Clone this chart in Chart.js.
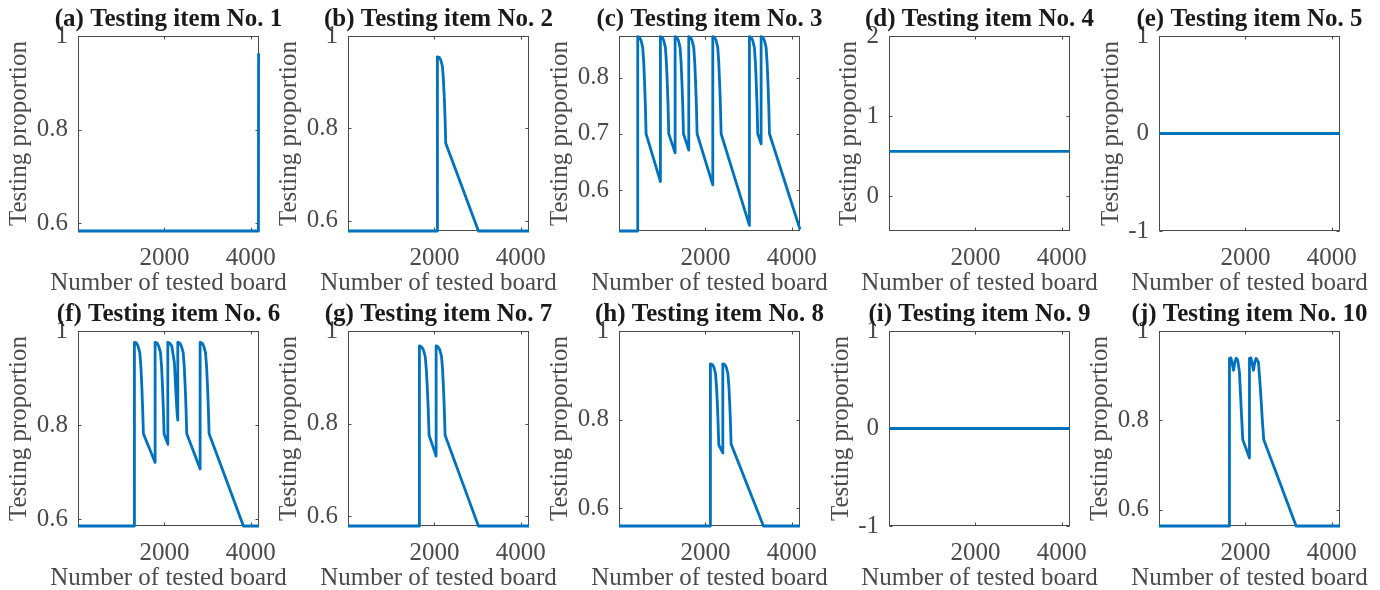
<!DOCTYPE html>
<html>
<head>
<meta charset="utf-8">
<script src="https://cdn.jsdelivr.net/npm/chart.js@4.4.0/dist/chart.umd.min.js"></script>
<style>
  body { margin: 0; background: #fff; }
  #wrap { position: relative; width: 1380px; height: 590px; overflow: hidden; background: #fff; }
  #wrap canvas { position: absolute; }
</style>
</head>
<body>
<div id="wrap"></div>
<script>
// values, one pair of arrays per panel
const titles = [
  '(a) Testing item No. 1', '(b) Testing item No. 2', '(c) Testing item No. 3',
  '(d) Testing item No. 4', '(e) Testing item No. 5', '(f) Testing item No. 6',
  '(g) Testing item No. 7', '(h) Testing item No. 8', '(i) Testing item No. 9',
  '(j) Testing item No. 10'
]
const xLabel = 'Number of tested board'
const yLabel = 'Testing proportion'
const xTicks = [2000, 4000]
const xMax = 4190

const yMin = [0.583, 0.578, 0.527, -0.43, -1, 0.586, 0.579, 0.56, -1, 0.564]
const yMax = [1, 1, 0.874, 2, 1, 1, 1, 1, 1, 1]
const yTicks = [
  [0.6, 0.8, 1], [0.6, 0.8, 1], [0.6, 0.7, 0.8], [0, 1, 2], [-1, 0, 1],
  [0.6, 0.8, 1], [0.6, 0.8, 1], [0.6, 0.8, 1], [-1, 0, 1], [0.6, 0.8, 1]
]

const aX = [0, 4177, 4180]
const aY = [0.583, 0.583, 0.963]

const bX = [0, 2070, 2070, 2109, 2148, 2186, 2209, 2232, 2248, 2263, 3019, 4190]
const bY = [0.578, 0.578, 0.955, 0.954, 0.948, 0.934, 0.905, 0.861, 0.818, 0.768, 0.578, 0.578]

const cX = [0, 434,
  434, 473, 511, 550, 573, 594, 612, 627, 959,
  959, 998, 1036, 1075, 1098, 1119, 1137, 1152, 1299,
  1299, 1338, 1376, 1415, 1438, 1459, 1477, 1492, 1615,
  1615, 1654, 1692, 1731, 1754, 1775, 1793, 1808, 2171,
  2171, 2210, 2248, 2287, 2310, 2331, 2349, 2364, 3019,
  3019, 3058, 3096, 3135, 3158, 3179, 3197, 3212, 3290,
  3290, 3329, 3367, 3406, 3429, 3450, 3468, 3483, 4190]
const cY = [0.527, 0.527,
  0.873, 0.872, 0.866, 0.853, 0.826, 0.787, 0.747, 0.700, 0.615,
  0.873, 0.872, 0.866, 0.853, 0.826, 0.787, 0.747, 0.700, 0.666,
  0.873, 0.872, 0.866, 0.853, 0.826, 0.787, 0.747, 0.700, 0.671,
  0.873, 0.872, 0.866, 0.853, 0.826, 0.787, 0.747, 0.700, 0.609,
  0.873, 0.872, 0.866, 0.853, 0.826, 0.787, 0.747, 0.700, 0.537,
  0.873, 0.872, 0.866, 0.853, 0.826, 0.787, 0.747, 0.700, 0.682,
  0.873, 0.872, 0.866, 0.853, 0.826, 0.787, 0.747, 0.700, 0.530]

const dX = [0, 4190]
const dY = [0.5625, 0.5625]

const eX = [0, 4190]
const eY = [0, 0]

const fX = [0, 1306,
  1306, 1348, 1389, 1431, 1456, 1479, 1497, 1514, 1785,
  1785, 1827, 1868, 1910, 1935, 1958, 1976, 1993, 2079,
  2079, 2125, 2171, 2232, 2263, 2294, 2310,
  2310, 2352, 2393, 2435, 2460, 2483, 2501, 2518, 2827,
  2827, 2869, 2910, 2952, 2977, 3000, 3018, 3035, 3829, 4190]
const fY = [0.586, 0.586,
  0.976, 0.975, 0.968, 0.954, 0.924, 0.879, 0.834, 0.782, 0.721,
  0.976, 0.975, 0.968, 0.954, 0.924, 0.879, 0.834, 0.782, 0.759,
  0.976, 0.974, 0.968, 0.932, 0.875, 0.825, 0.811,
  0.976, 0.975, 0.968, 0.954, 0.924, 0.879, 0.834, 0.782, 0.707,
  0.976, 0.975, 0.968, 0.954, 0.924, 0.879, 0.834, 0.782, 0.586, 0.586]

const gX = [0, 1653,
  1653, 1698, 1743, 1787, 1814, 1839, 1859, 1877, 2040,
  2040, 2082, 2123, 2165, 2190, 2213, 2231, 2248, 3019, 4190]
const gY = [0.579, 0.579,
  0.968, 0.966, 0.960, 0.945, 0.916, 0.871, 0.827, 0.775, 0.730,
  0.968, 0.966, 0.960, 0.945, 0.916, 0.871, 0.827, 0.775, 0.579, 0.579]

const hX = [0, 2116,
  2116, 2155, 2194, 2232, 2256, 2277, 2294, 2310, 2403,
  2403, 2442, 2481, 2519, 2543, 2564, 2581, 2595, 3343, 4190]
const hY = [0.56, 0.56,
  0.926, 0.925, 0.919, 0.905, 0.877, 0.835, 0.792, 0.743, 0.725,
  0.926, 0.925, 0.919, 0.905, 0.877, 0.835, 0.792, 0.745, 0.56, 0.56]

const iX = [0, 4190]
const iY = [0, 0]

const jX = [0, 1631,
  1631, 1665, 1700, 1724, 1755, 1786, 1823, 1862, 1900, 1939, 2094,
  2094, 2128, 2160, 2187, 2218, 2248, 2302, 2348, 2395, 2425, 3174, 4190]
const jY = [0.564, 0.564,
  0.939, 0.940, 0.925, 0.912, 0.930, 0.939, 0.935, 0.908, 0.832, 0.757, 0.716,
  0.939, 0.940, 0.925, 0.912, 0.930, 0.939, 0.930, 0.870, 0.795, 0.757, 0.564, 0.564]

const seriesX = [aX, bX, cX, dX, eX, fX, gX, hX, iX, jX]
const seriesY = [aY, bY, cY, dY, eY, fY, gY, hY, iY, jY]

const colLeft = [0, 270, 541, 811, 1081]
const serif = "'Liberation Serif', 'Times New Roman', serif"
const grey = '#4a4a4a'

// box, inner ticks and the three texts of each panel
const frame = {
  id: 'frame',
  beforeDatasetsDraw(chart) {
    const { ctx, chartArea: a, scales: { x, y } } = chart
    const L = Math.round(a.left) + 0.5, R = Math.round(a.right) - 0.5
    const T = Math.round(a.top) + 0.5, B = Math.round(a.bottom) - 0.5
    ctx.save()
    ctx.strokeStyle = grey
    ctx.lineWidth = 1
    ctx.strokeRect(L, T, R - L, B - T)
    ctx.beginPath()
    x.ticks.forEach(t => {
      const px = Math.round(x.getPixelForValue(t.value)) + 0.5
      ctx.moveTo(px, B); ctx.lineTo(px, B - 3)
      ctx.moveTo(px, T); ctx.lineTo(px, T + 3)
    })
    y.ticks.forEach(t => {
      const py = Math.round(y.getPixelForValue(t.value)) + 0.5
      ctx.moveTo(L, py); ctx.lineTo(L + 3, py)
      ctx.moveTo(R, py); ctx.lineTo(R - 3, py)
    })
    ctx.stroke()
    ctx.restore()
  },
  afterDraw(chart, args, opts) {
    const { ctx, chartArea: a, scales: { y } } = chart
    const cx = (a.left + a.right) / 2
    const cy = (a.top + a.bottom) / 2
    ctx.save()
    ctx.textAlign = 'center'
    ctx.textBaseline = 'alphabetic'

    ctx.fillStyle = '#1a1a1a'
    ctx.font = 'bold 25px ' + serif
    ctx.fillText(opts.title, cx, 26)

    ctx.fillStyle = grey
    ctx.font = '25px ' + serif
    ctx.fillText(xLabel, cx, 290)

    // y label sits just left of the widest tick label
    let w = 0
    y.ticks.forEach(t => { w = Math.max(w, ctx.measureText(String(t.value)).width) })
    ctx.translate(a.left - 10 - w - 10.5, cy)
    ctx.rotate(-Math.PI / 2)
    ctx.fillText(yLabel, 0, 0)
    ctx.restore()
  }
}

const wrap = document.getElementById('wrap')

for (let i = 0; i < 10; i++) {
  const canvas = document.createElement('canvas')
  canvas.width = 300
  canvas.height = 295
  canvas.style.left = colLeft[i % 5] + 'px'
  canvas.style.top = Math.floor(i / 5) * 295 + 'px'
  wrap.appendChild(canvas)

  const pts = seriesX[i].map((x, k) => ({ x: x, y: seriesY[i][k] }))

  new Chart(canvas, {
    type: 'line',
    data: {
      datasets: [{
        data: pts,
        borderColor: '#0072BD',
        borderWidth: 2.8,
        pointRadius: 0,
        // tiny tension keeps segments straight but avoids the pixel-merging fast path
        tension: 0.000001,
        borderJoinStyle: 'round',
        fill: false,
        clip: 2
      }]
    },
    options: {
      responsive: false,
      animation: false,
      devicePixelRatio: 1,
      layout: { padding: { left: 0, right: 41, top: 36, bottom: 0 } },
      plugins: {
        legend: { display: false },
        tooltip: { enabled: false },
        frame: { title: titles[i] }
      },
      scales: {
        x: {
          type: 'linear',
          min: 0,
          max: xMax,
          grid: { display: false, drawTicks: false },
          border: { display: false },
          afterBuildTicks: s => { s.ticks = xTicks.map(v => ({ value: v })) },
          afterFit: s => { s.height = 64; s.paddingLeft = 0; s.paddingRight = 0 },
          ticks: {
            font: { family: serif, size: 25 },
            color: grey,
            padding: 12,
            maxRotation: 0,
            autoSkip: false,
            callback: v => String(v)
          }
        },
        y: {
          type: 'linear',
          min: yMin[i],
          max: yMax[i],
          grid: { display: false, drawTicks: false },
          border: { display: false },
          afterBuildTicks: s => { s.ticks = yTicks[i].map(v => ({ value: v })) },
          afterFit: s => { s.width = 78; s.paddingTop = 0; s.paddingBottom = 0 },
          ticks: {
            font: { family: serif, size: 25 },
            color: grey,
            padding: 10,
            autoSkip: false,
            callback: v => String(v)
          }
        }
      }
    },
    plugins: [frame]
  })
}
</script>
</body>
</html>
